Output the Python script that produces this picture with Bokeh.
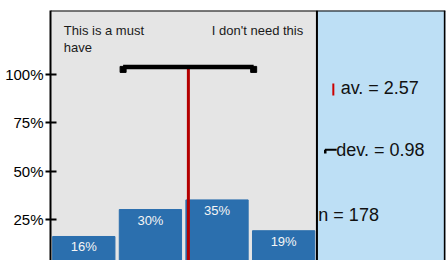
from bokeh.plotting import figure
from bokeh.models import Range1d, FixedTicker, Span, BoxAnnotation, Label
from bokeh.core.properties import value
from bokeh.embed import file_html
from bokeh.resources import INLINE

# ---- data ----
positions = [1, 2, 3, 4]
shares = [0.16, 0.30, 0.35, 0.19]
bar_labels = ["16%", "30%", "35%", "19%"]
mean_value = 2.57
sd_value = 0.98
n_value = 178
y_ticks = [0.25, 0.5, 0.75, 1.0]
y_tick_labels = ["25%", "50%", "75%", "100%"]
left_text = "This is a must\nhave"
right_text = "I don't need this"

FONT = value("Liberation Sans")
LFONT = "Liberation Sans"
BAR_COLOR = "#2b6fae"
RED = "#b40000"

p = figure(width=447, height=260,
           x_range=Range1d(0.5, 6.43), y_range=Range1d(0.0353, 1.334),
           output_backend="svg", toolbar_location=None, x_axis_location=None,
           min_border_left=50, min_border_right=2, min_border_top=10, min_border_bottom=0)
p.background_fill_color = "#e5e5e5"
p.border_fill_color = "white"
p.outline_line_color = None
p.xgrid.visible = False
p.ygrid.visible = False

ax = p.yaxis[0]
ax.ticker = FixedTicker(ticks=y_ticks)
ax.major_label_overrides = {t: l for t, l in zip(y_ticks, y_tick_labels)}
ax.axis_line_width = 2
ax.major_tick_line_width = 2
ax.major_tick_in = 6
ax.major_tick_out = 5
ax.minor_tick_line_color = None
ax.major_label_standoff = 2
ax.major_label_text_font = LFONT
ax.major_label_text_font_size = "15px"
ax.major_label_text_color = "black"

# right info panel
p.add_layout(BoxAnnotation(left=4.5, fill_color="#bddff5", fill_alpha=1, line_color=None,
                           level="underlay"))

# bars
p.vbar(x=positions, top=shares, bottom=0, width=0.935, color=BAR_COLOR)
p.text(x=positions, y=shares, text=bar_labels, text_align="center", text_baseline="top",
       y_offset=3, text_color="#f5f5f5", text_font_size="13px", text_font=FONT)

# mean line and sd bar
bar_y = 1.04
cap_y = 1.028
p.segment(x0=[mean_value], x1=[mean_value], y0=[0], y1=[bar_y], line_width=3, color=RED)
p.segment(x0=[mean_value - sd_value], x1=[mean_value + sd_value], y0=[bar_y], y1=[bar_y],
          line_width=4.5, color="black")
p.scatter(x=[mean_value - sd_value, mean_value + sd_value], y=[cap_y, cap_y],
          marker="square", size=6, color="black")

# borders
p.add_layout(Span(location=4.5, dimension="height", line_color="black", line_width=2))
p.add_layout(Span(location=6.42, dimension="height", line_color="black", line_width=2))
p.add_layout(Span(location=1.334, dimension="width", line_color="black", line_width=2))

# scale end texts
p.add_layout(Label(x=0.70, y=1.269, text=left_text, text_align="left", text_baseline="top",
                   text_font=LFONT, text_font_size="13px", text_color="#1a1a1a",
                   text_line_height=1.1))
p.add_layout(Label(x=4.294, y=1.269, text=right_text, text_align="right", text_baseline="top",
                   text_font=LFONT, text_font_size="13px", text_color="#1a1a1a"))

# legend symbols
p.segment(x0=[4.746], x1=[4.746], y0=[0.892], y1=[0.955], line_width=2, color="#cc0000")
p.segment(x0=[4.62], x1=[4.796], y0=[0.6104], y1=[0.6104], line_width=2, color="black")
p.segment(x0=[4.625], x1=[4.625], y0=[0.6104], y1=[0.591], line_width=2.5, color="black")

# statistics
p.add_layout(Label(x=4.856, y=0.934, text=f"av. = {mean_value:.2f}", text_baseline="middle",
                   text_font=LFONT, text_font_size="18px", text_color="#111111"))
p.add_layout(Label(x=4.791, y=0.607, text=f"dev. = {sd_value:.2f}", text_baseline="middle",
                   text_font=LFONT, text_font_size="18px", text_color="#111111"))
p.add_layout(Label(x=4.521, y=0.2695, text=f"n = {n_value}", text_baseline="middle",
                   text_font=LFONT, text_font_size="18px", text_color="#111111"))

open("out.html", "w").write(file_html(p, INLINE))
